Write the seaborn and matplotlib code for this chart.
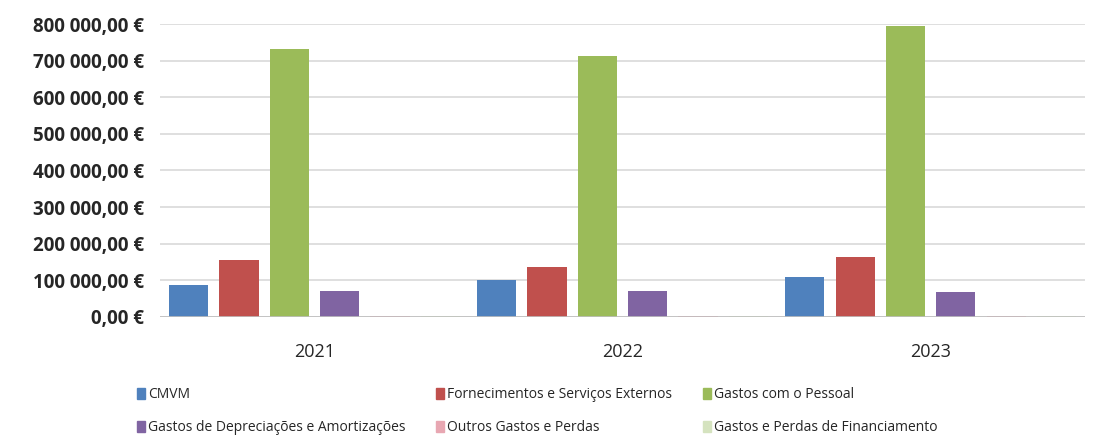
import pandas as pd
import matplotlib.pyplot as plt
import seaborn as sns
from matplotlib.ticker import FuncFormatter

# values (EUR)
years = ["2021", "2022", "2023"]
categories = [
    "CMVM",
    "Fornecimentos e Serviços Externos",
    "Gastos com o Pessoal",
    "Gastos de Depreciações e Amortizações",
    "Outros Gastos e Perdas",
    "Gastos e Perdas de Financiamento",
]
cmvm = [87000, 101000, 109000]
fse = [156000, 137000, 164000]
pessoal = [732000, 713000, 795000]
depreciacoes = [71000, 70000, 69000]
outros = [3000, 3000, 3000]
financiamento = [1500, 1500, 1500]

colors = ["#4F81BD", "#C0504D", "#9BBB59", "#8064A2", "#E8A7B2", "#D5E3BF"]

series = [cmvm, fse, pessoal, depreciacoes, outros, financiamento]
df = pd.DataFrame(
    [(y, c, v[i]) for c, v in zip(categories, series) for i, y in enumerate(years)],
    columns=["Ano", "Rubrica", "Valor"],
)

sns.set_style("white")
plt.rcParams["font.family"] = ["Open Sans", "DejaVu Sans"]

fig = plt.figure(figsize=(10.99, 4.37), dpi=100)
ax = fig.add_axes([0.146, 0.275, 0.841, 0.67])

sns.barplot(
    data=df, x="Ano", y="Valor", hue="Rubrica", hue_order=categories,
    order=years, palette=colors, saturation=1, width=0.98, gap=0.22,
    linewidth=0, ax=ax, legend=False,
)

ax.set_ylim(0, 800000)
ax.set_xlim(-0.5, 2.5)
ax.set_yticks(range(0, 800001, 100000))
ax.yaxis.set_major_formatter(
    FuncFormatter(lambda v, _: f"{v:,.2f}".replace(",", " ").replace(".", ",") + " €")
)
ax.grid(axis="y", color="#D9D9D9", linewidth=1.2)
ax.set_axisbelow(True)
for s in ax.spines.values():
    s.set_visible(False)
ax.axhline(0, color="#BFBFBF", linewidth=1.2)
ax.set_xlabel("")
ax.set_ylabel("")
ax.tick_params(axis="y", labelsize=13.5, colors="#262626", pad=12, length=0)
ax.tick_params(axis="x", labelsize=13, colors="#262626", pad=19, length=0)
for lab in ax.get_yticklabels():
    lab.set_fontweight("bold")

# legend: 3 columns x 2 rows, filled row by row
handles = [plt.Rectangle((0, 0), 1, 1, color=c) for c in colors]
order = [0, 3, 1, 4, 2, 5]
fig.legend(
    [handles[i] for i in order], [categories[i] for i in order],
    ncol=3, loc="lower left", bbox_to_anchor=(0.113, -0.025),
    frameon=False, fontsize=10, handlelength=0.6, handleheight=0.8,
    handletextpad=0.2, columnspacing=2.2, labelspacing=1.3,
    labelcolor="#262626",
)

fig.savefig("out.png", dpi=100)
